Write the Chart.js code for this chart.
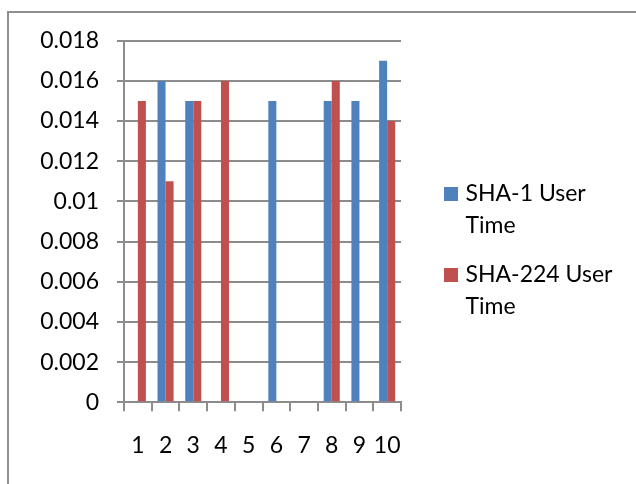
<!DOCTYPE html>
<html>
<head>
<meta charset="utf-8">
<script src="https://cdn.jsdelivr.net/npm/chart.js@4"></script>
<style>
  html, body { margin: 0; padding: 0; background: #fff; overflow: hidden; }
  #frame {
    position: absolute; left: 0; top: 0; width: 636px; height: 484px;
  }
  #border {
    position: absolute; left: 7px; top: 11px; width: 700px; height: 600px;
    border-left: 2px solid #8f8f8f; border-top: 2px solid #8f8f8f;
    box-sizing: border-box; pointer-events: none;
  }
  canvas { position: absolute; left: 0; top: 0; }
</style>
</head>
<body>
<div id="frame">
  <div id="border"></div>
  <canvas id="c" width="636" height="484"></canvas>
</div>
<script>
// Run numbers 1..10
const categories = ['1', '2', '3', '4', '5', '6', '7', '8', '9', '10'];
// User time (seconds) per run
const sha1UserTime   = [0, 0.016, 0.015, 0, 0, 0.015, 0, 0.015, 0.015, 0.017];
const sha224UserTime = [0.015, 0.011, 0.015, 0.016, 0, 0, 0, 0.016, 0, 0.014];
const seriesNames = ['SHA-1 User Time', 'SHA-224 User Time'];
const legendLines = [['SHA-1 User', 'Time'], ['SHA-224 User', 'Time']];
const yTicks = [0, 0.002, 0.004, 0.006, 0.008, 0.01, 0.012, 0.014, 0.016, 0.018];

const FONT = 'Lato, "Open Sans", sans-serif';
const GRID = '#8c8c8c';

// Legend drawn to the right of the plot, with wrapped labels
const sideLegend = {
  id: 'sideLegend',
  afterDraw(chart) {
    const ctx = chart.ctx;
    ctx.save();
    ctx.font = '23px ' + FONT;
    ctx.textBaseline = 'middle';
    ctx.textAlign = 'left';
    const x0 = 444, textX = 465.5;
    const firstY = 194, entryGap = 81, lineGap = 31.5;
    chart.data.datasets.forEach((ds, i) => {
      const y = firstY + i * entryGap;
      ctx.fillStyle = ds.backgroundColor;
      ctx.fillRect(x0, y - 7, 14, 14);
      ctx.fillStyle = '#000';
      legendLines[i].forEach((line, j) => ctx.fillText(line, textX, y + j * lineGap));
    });
    ctx.restore();
  }
};

new Chart(document.getElementById('c'), {
  type: 'bar',
  data: {
    labels: categories,
    datasets: [
      { label: seriesNames[0], data: sha1UserTime, backgroundColor: '#4f81bd' },
      { label: seriesNames[1], data: sha224UserTime, backgroundColor: '#c0504d' }
    ]
  },
  options: {
    responsive: false,
    animation: false,
    devicePixelRatio: 1,
    categoryPercentage: 0.58,
    barPercentage: 1,
    layout: { padding: { left: 0, top: 40.7, right: 235, bottom: 0 } },
    plugins: { legend: { display: false }, tooltip: { enabled: false } },
    scales: {
      x: {
        grid: {
          offset: true, drawOnChartArea: false, drawTicks: true,
          tickLength: 9, color: GRID, lineWidth: 2
        },
        border: { display: true, color: GRID, width: 2 },
        ticks: { color: '#000', font: { family: FONT, size: 23 }, padding: 20, maxRotation: 0, autoSkip: false },
        afterFit(scale) { scale.height = 484 - 402.3; }
      },
      y: {
        min: 0, max: 0.018,
        afterBuildTicks(scale) { scale.ticks = yTicks.map(v => ({ value: v })); },
        grid: { color: GRID, lineWidth: 2, drawTicks: true, tickLength: 7 },
        border: { display: true, color: GRID, width: 2 },
        ticks: {
          color: '#000', font: { family: FONT, size: 23 }, padding: 18,
          callback: v => String(+v.toFixed(3))
        },
        afterFit(scale) { scale.width = 124; }
      }
    }
  },
  plugins: [sideLegend]
});
</script>
</body>
</html>
